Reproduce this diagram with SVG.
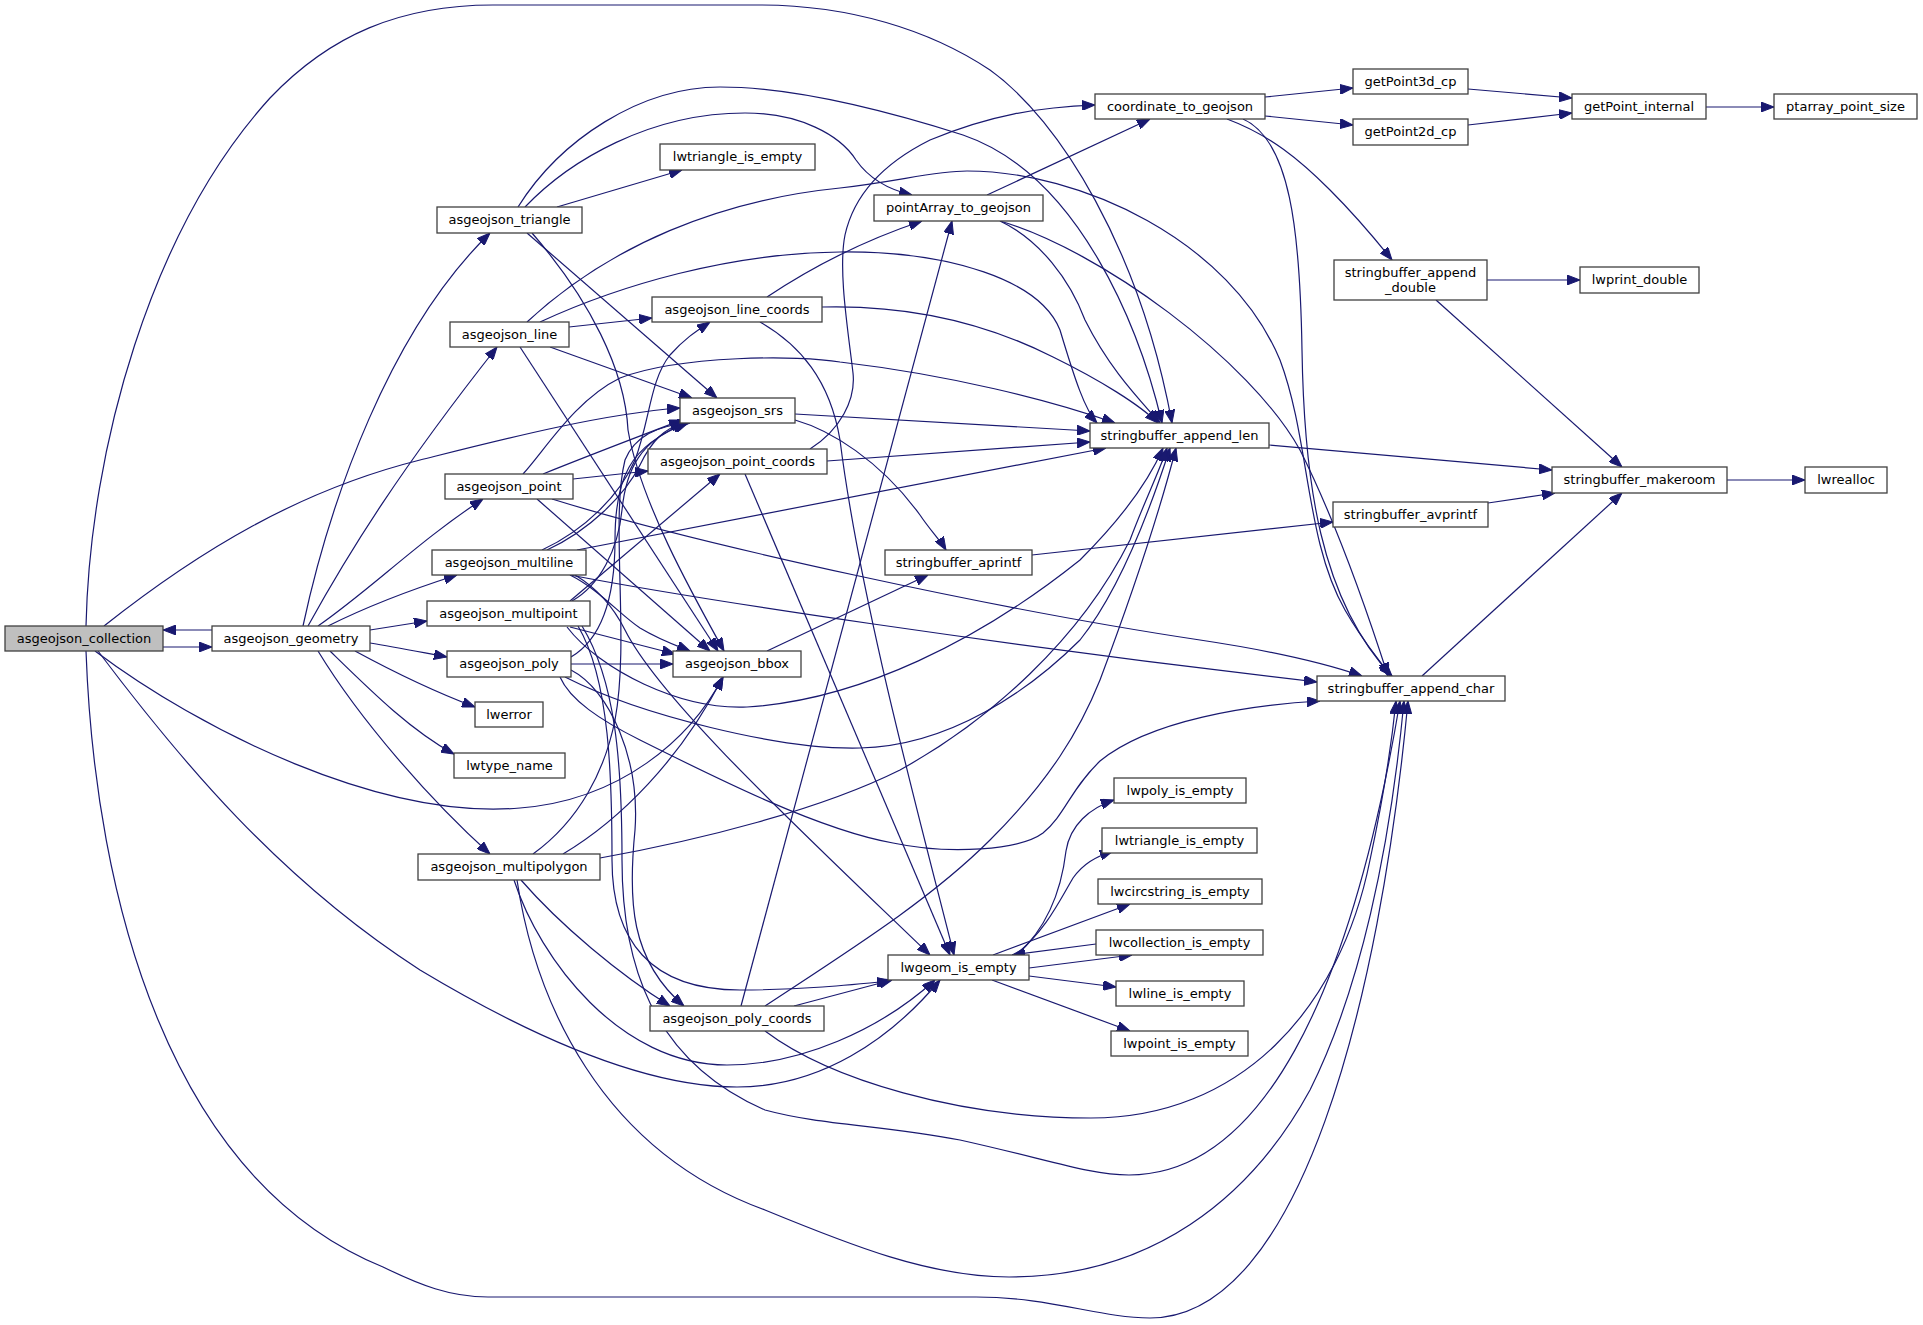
<svg xmlns="http://www.w3.org/2000/svg" width="1923" height="1325" viewBox="0 0 1923 1325">
<defs>
<style>
.node rect{fill:#ffffff;stroke:#404040;stroke-width:1.3}
.node.root rect{fill:#bfbfbf}
.node text{font-family:"DejaVu Sans","Liberation Sans",sans-serif;font-size:13px;text-anchor:middle;fill:#000000}
.edge{fill:none;stroke:#191970;stroke-width:1.2;marker-end:url(#arr)}
</style>
<marker id="arr" viewBox="0 0 13 10" refX="13" refY="5" markerWidth="13" markerHeight="10" markerUnits="userSpaceOnUse" orient="auto">
<path d="M0,0 L13,5 L0,10 z" fill="#191970" stroke="#191970" stroke-width="1"/>
</marker>
</defs>
<rect x="0" y="0" width="1923" height="1325" fill="#ffffff"/>
<g id="edges">
<path class="edge" d="M163,647 L212,647"/>
<path class="edge" d="M212,630 L163,630"/>
<path class="edge" d="M104,626 C200,550 300,490 420,460 C500,440 600,414 680,408"/>
<path class="edge" d="M86,626 C90,450 150,230 270,98 C330,35 400,5 493,5 L759,5 C850,5 930,30 990,70 C1060,120 1140,250 1172,423"/>
<path class="edge" d="M95,651 C200,730 380,820 520,808 C620,800 690,740 723,677"/>
<path class="edge" d="M98,651 C180,760 280,880 420,970 C520,1030 640,1087 737,1087 C820,1087 890,1040 940,980"/>
<path class="edge" d="M86,651 C95,900 170,1180 383,1267 C420,1285 450,1297 488,1297 L976,1297 C1050,1297 1100,1318 1150,1318 C1300,1318 1380,1000 1408,701"/>
<path class="edge" d="M303,626 C330,500 390,330 490,233"/>
<path class="edge" d="M308,626 C350,550 400,470 497,347"/>
<path class="edge" d="M318,626 C370,590 420,540 483,499"/>
<path class="edge" d="M328,626 C370,605 410,590 457,575"/>
<path class="edge" d="M370,630 L427,621"/>
<path class="edge" d="M370,643 C395,647 420,652 447,657"/>
<path class="edge" d="M355,651 C390,670 430,690 475,707"/>
<path class="edge" d="M330,651 C370,690 410,730 454,754"/>
<path class="edge" d="M318,651 C360,720 430,800 490,854"/>
<path class="edge" d="M557,207 L682,170"/>
<path class="edge" d="M525,207 C570,160 650,113 745,113 C800,113 840,135 856,160 C870,180 890,190 912,195"/>
<path class="edge" d="M518,207 C560,140 640,87 720,87 C800,87 900,115 963,135 C1080,175 1140,330 1162,423"/>
<path class="edge" d="M527,233 L717,398"/>
<path class="edge" d="M532,233 C590,300 625,370 628,430 C640,500 690,590 724,651"/>
<path class="edge" d="M569,327 L652,318"/>
<path class="edge" d="M550,347 L692,398"/>
<path class="edge" d="M520,347 L718,651"/>
<path class="edge" d="M540,322 C620,285 730,253 840,252 C950,251 1040,280 1060,330 C1075,380 1085,410 1097,423"/>
<path class="edge" d="M527,322 C610,245 720,200 840,188 C900,181 935,171 967,171 C1080,171 1230,240 1280,360 C1310,440 1305,540 1345,610 C1365,645 1380,660 1390,676"/>
<path class="edge" d="M573,479 L648,471"/>
<path class="edge" d="M543,474 C590,455 640,436 682,420"/>
<path class="edge" d="M523,474 C545,450 575,400 620,378 C680,355 800,355 840,362 C950,375 1050,400 1115,423"/>
<path class="edge" d="M537,499 L710,651"/>
<path class="edge" d="M552,499 C700,545 1000,610 1200,640 C1280,652 1330,665 1362,676"/>
<path class="edge" d="M827,461 L1090,442"/>
<path class="edge" d="M745,474 L950,955"/>
<path class="edge" d="M810,449 C840,430 856,400 853,373 C848,330 838,270 845,235 C855,190 890,160 930,140 C990,115 1040,107 1095,105"/>
<path class="edge" d="M767,297 C800,275 850,245 922,221"/>
<path class="edge" d="M822,307 C900,305 980,320 1053,357 C1100,380 1140,405 1158,423"/>
<path class="edge" d="M760,322 C800,345 830,380 840,440 C860,600 920,820 954,955"/>
<path class="edge" d="M795,414 L1090,431"/>
<path class="edge" d="M795,420 C830,430 880,460 920,515 C930,530 940,540 946,550"/>
<path class="edge" d="M767,651 L928,575"/>
<path class="edge" d="M542,550 C585,530 620,495 635,460 C650,420 650,380 670,355 C685,338 698,330 710,322"/>
<path class="edge" d="M547,550 C590,530 625,495 640,465 C652,440 665,428 684,423"/>
<path class="edge" d="M570,575 C600,590 620,615 640,628 C660,640 675,645 690,651"/>
<path class="edge" d="M577,550 L1106,448"/>
<path class="edge" d="M570,575 C700,600 1000,645 1317,682"/>
<path class="edge" d="M575,575 C600,590 615,610 625,630 C660,700 800,830 930,955"/>
<path class="edge" d="M572,601 C600,585 618,550 622,510 C626,470 640,440 686,423"/>
<path class="edge" d="M570,601 L720,474"/>
<path class="edge" d="M570,627 L675,654"/>
<path class="edge" d="M567,627 C600,670 680,710 747,707 C860,700 980,640 1080,560 C1110,530 1145,490 1163,448"/>
<path class="edge" d="M578,626 C610,680 612,780 612,860 C612,940 650,990 740,990 C800,990 850,985 890,981"/>
<path class="edge" d="M582,626 C615,680 622,760 622,860 C622,960 650,1060 765,1110 C820,1125 880,1125 960,1140 C1050,1160 1090,1175 1129,1175 C1260,1175 1350,1000 1400,701"/>
<path class="edge" d="M571,657 C600,640 615,600 615,540 C615,480 628,445 688,423"/>
<path class="edge" d="M571,664 L673,664"/>
<path class="edge" d="M571,670 C610,690 640,760 635,830 C628,900 630,960 684,1006"/>
<path class="edge" d="M565,677 C640,715 780,750 860,748 C950,746 1030,690 1080,640 C1120,590 1150,510 1170,448"/>
<path class="edge" d="M560,677 C570,700 600,720 640,740 C720,780 820,830 893,843 C950,855 1020,850 1043,833 C1065,815 1070,790 1100,761 C1150,720 1250,705 1320,701"/>
<path class="edge" d="M533,854 C580,820 605,770 615,720 C630,640 610,520 625,460 C635,435 660,425 690,423"/>
<path class="edge" d="M563,854 C620,820 680,760 723,677"/>
<path class="edge" d="M521,880 C560,925 620,975 670,1006"/>
<path class="edge" d="M514,880 C540,960 620,1065 727,1065 C800,1065 880,1030 935,980"/>
<path class="edge" d="M517,880 C535,1000 600,1150 765,1210 C850,1245 930,1277 1009,1277 C1150,1277 1250,1200 1310,1090 C1360,990 1390,850 1404,701"/>
<path class="edge" d="M600,858 C700,840 820,810 900,770 C990,720 1080,640 1130,540 C1145,500 1160,470 1167,448"/>
<path class="edge" d="M741,1006 L952,221"/>
<path class="edge" d="M765,1006 C850,950 930,900 990,840 C1050,780 1080,730 1100,680 C1130,600 1160,510 1176,448"/>
<path class="edge" d="M794,1006 L892,980"/>
<path class="edge" d="M765,1031 C830,1080 960,1118 1091,1118 C1240,1118 1340,1010 1370,860 C1385,790 1392,740 1396,701"/>
<path class="edge" d="M987,195 L1150,119"/>
<path class="edge" d="M1000,221 C1040,240 1070,280 1085,320 C1110,370 1140,400 1160,423"/>
<path class="edge" d="M1000,221 C1100,250 1250,360 1300,450 C1340,530 1370,620 1388,676"/>
<path class="edge" d="M1265,97 L1353,88"/>
<path class="edge" d="M1265,116 L1353,125"/>
<path class="edge" d="M1227,119 C1270,135 1300,160 1330,190 C1360,220 1380,245 1392,260"/>
<path class="edge" d="M1243,119 C1290,140 1300,230 1302,350 C1304,480 1320,600 1392,676"/>
<path class="edge" d="M1468,89 L1572,98"/>
<path class="edge" d="M1468,125 L1572,113"/>
<path class="edge" d="M1706,107 L1774,107"/>
<path class="edge" d="M1487,280 L1580,280"/>
<path class="edge" d="M1436,300 L1622,467"/>
<path class="edge" d="M1269,445 L1552,470"/>
<path class="edge" d="M1032,555 L1333,522"/>
<path class="edge" d="M1488,503 L1555,493"/>
<path class="edge" d="M1422,676 L1622,493"/>
<path class="edge" d="M1727,480 L1805,480"/>
<path class="edge" d="M1017,955 C1050,925 1062,885 1066,851 C1070,825 1090,808 1114,800"/>
<path class="edge" d="M1015,955 C1045,932 1060,900 1073,878 C1083,864 1095,857 1113,851"/>
<path class="edge" d="M993,955 L1130,904"/>
<path class="edge" d="M1096,944 L1012,955"/>
<path class="edge" d="M1029,968 L1132,955"/>
<path class="edge" d="M1029,976 L1116,987"/>
<path class="edge" d="M992,980 L1130,1031"/>
</g>
<g id="node_asgeojson_collection" class="node root"><rect x="5" y="626" width="158" height="25"/><text x="84" y="642.5">asgeojson_collection</text></g>
<g id="node_asgeojson_geometry" class="node"><rect x="212" y="626" width="158" height="25"/><text x="291" y="642.5">asgeojson_geometry</text></g>
<g id="node_asgeojson_triangle" class="node"><rect x="437" y="207" width="145" height="26"/><text x="509.5" y="224">asgeojson_triangle</text></g>
<g id="node_lwtriangle_is_empty_1" class="node"><rect x="660" y="144" width="155" height="26"/><text x="737.5" y="161">lwtriangle_is_empty</text></g>
<g id="node_asgeojson_line" class="node"><rect x="450" y="322" width="119" height="25"/><text x="509.5" y="338.5">asgeojson_line</text></g>
<g id="node_asgeojson_line_coords" class="node"><rect x="652" y="297" width="170" height="25"/><text x="737" y="313.5">asgeojson_line_coords</text></g>
<g id="node_asgeojson_srs" class="node"><rect x="680" y="398" width="115" height="25"/><text x="737.5" y="414.5">asgeojson_srs</text></g>
<g id="node_asgeojson_point" class="node"><rect x="445" y="474" width="128" height="25"/><text x="509" y="490.5">asgeojson_point</text></g>
<g id="node_asgeojson_point_coords" class="node"><rect x="648" y="449" width="179" height="25"/><text x="737.5" y="465.5">asgeojson_point_coords</text></g>
<g id="node_asgeojson_multiline" class="node"><rect x="432" y="550" width="154" height="25"/><text x="509" y="566.5">asgeojson_multiline</text></g>
<g id="node_asgeojson_multipoint" class="node"><rect x="427" y="601" width="163" height="25"/><text x="508.5" y="617.5">asgeojson_multipoint</text></g>
<g id="node_asgeojson_poly" class="node"><rect x="447" y="651" width="124" height="26"/><text x="509" y="668">asgeojson_poly</text></g>
<g id="node_asgeojson_bbox" class="node"><rect x="673" y="651" width="128" height="26"/><text x="737" y="668">asgeojson_bbox</text></g>
<g id="node_lwerror" class="node"><rect x="475" y="702" width="68" height="25"/><text x="509" y="718.5">lwerror</text></g>
<g id="node_lwtype_name" class="node"><rect x="454" y="753" width="111" height="25"/><text x="509.5" y="769.5">lwtype_name</text></g>
<g id="node_asgeojson_multipolygon" class="node"><rect x="418" y="854" width="182" height="26"/><text x="509" y="871">asgeojson_multipolygon</text></g>
<g id="node_asgeojson_poly_coords" class="node"><rect x="650" y="1006" width="174" height="25"/><text x="737" y="1022.5">asgeojson_poly_coords</text></g>
<g id="node_lwgeom_is_empty" class="node"><rect x="888" y="955" width="141" height="25"/><text x="958.5" y="971.5">lwgeom_is_empty</text></g>
<g id="node_pointArray_to_geojson" class="node"><rect x="874" y="195" width="169" height="26"/><text x="958.5" y="212">pointArray_to_geojson</text></g>
<g id="node_coordinate_to_geojson" class="node"><rect x="1095" y="94" width="170" height="25"/><text x="1180" y="110.5">coordinate_to_geojson</text></g>
<g id="node_stringbuffer_append_len" class="node"><rect x="1090" y="423" width="179" height="25"/><text x="1179.5" y="439.5">stringbuffer_append_len</text></g>
<g id="node_stringbuffer_aprintf" class="node"><rect x="885" y="550" width="147" height="25"/><text x="958.5" y="566.5">stringbuffer_aprintf</text></g>
<g id="node_stringbuffer_append_char" class="node"><rect x="1317" y="676" width="188" height="25"/><text x="1411" y="692.5">stringbuffer_append_char</text></g>
<g id="node_getPoint3d_cp" class="node"><rect x="1353" y="69" width="115" height="25"/><text x="1410.5" y="85.5">getPoint3d_cp</text></g>
<g id="node_getPoint2d_cp" class="node"><rect x="1353" y="119" width="115" height="26"/><text x="1410.5" y="136">getPoint2d_cp</text></g>
<g id="node_getPoint_internal" class="node"><rect x="1572" y="94" width="134" height="25"/><text x="1639" y="110.5">getPoint_internal</text></g>
<g id="node_ptarray_point_size" class="node"><rect x="1774" y="94" width="143" height="25"/><text x="1845.5" y="110.5">ptarray_point_size</text></g>
<g id="node_stringbuffer_append_double" class="node"><rect x="1334" y="260" width="153" height="40"/><text x="1410.5" y="277">stringbuffer_append</text><text x="1410.5" y="292">_double</text></g>
<g id="node_lwprint_double" class="node"><rect x="1580" y="267" width="119" height="26"/><text x="1639.5" y="284">lwprint_double</text></g>
<g id="node_stringbuffer_makeroom" class="node"><rect x="1552" y="467" width="175" height="26"/><text x="1639.5" y="484">stringbuffer_makeroom</text></g>
<g id="node_lwrealloc" class="node"><rect x="1805" y="467" width="82" height="26"/><text x="1846" y="484">lwrealloc</text></g>
<g id="node_stringbuffer_avprintf" class="node"><rect x="1333" y="502" width="155" height="25"/><text x="1410.5" y="518.5">stringbuffer_avprintf</text></g>
<g id="node_lwpoly_is_empty" class="node"><rect x="1114" y="778" width="132" height="25"/><text x="1180" y="794.5">lwpoly_is_empty</text></g>
<g id="node_lwtriangle_is_empty_2" class="node"><rect x="1102" y="828" width="155" height="25"/><text x="1179.5" y="844.5">lwtriangle_is_empty</text></g>
<g id="node_lwcircstring_is_empty" class="node"><rect x="1098" y="879" width="164" height="25"/><text x="1180" y="895.5">lwcircstring_is_empty</text></g>
<g id="node_lwcollection_is_empty" class="node"><rect x="1096" y="930" width="167" height="25"/><text x="1179.5" y="946.5">lwcollection_is_empty</text></g>
<g id="node_lwline_is_empty" class="node"><rect x="1116" y="981" width="128" height="25"/><text x="1180" y="997.5">lwline_is_empty</text></g>
<g id="node_lwpoint_is_empty" class="node"><rect x="1111" y="1031" width="137" height="25"/><text x="1179.5" y="1047.5">lwpoint_is_empty</text></g>
</svg>
